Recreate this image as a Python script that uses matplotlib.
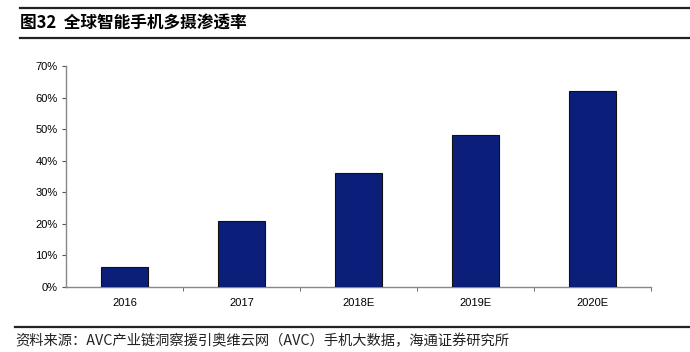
import matplotlib.pyplot as plt
import numpy as np

plt.rcParams['font.family'] = ['Noto Sans CJK SC', 'DejaVu Sans']

years = ['2016', '2017', '2018E', '2019E', '2020E']
rate = [6.2, 21, 36, 48, 62]   # %
yticks = [0, 10, 20, 30, 40, 50, 60, 70]

fig = plt.figure(figsize=(6.9, 3.52), dpi=100)
W, H = 690, 352

# header / footer rules
fig.add_artist(plt.Line2D([20/W, 1], [1-8/H, 1-8/H], color='#222222', lw=1.6))
fig.add_artist(plt.Line2D([20/W, 1], [1-38/H, 1-38/H], color='#222222', lw=1.6))
fig.add_artist(plt.Line2D([15/W, 1], [1-327/H, 1-327/H], color='#222222', lw=1.6))
fig.text(20/W, 1-24/H, '图32  全球智能手机多摄渗透率', fontsize=12, fontweight='bold',
         va='center', ha='left')
fig.text(15/W, 1-341/H, '资料来源：AVC产业链洞察援引奥维云网（AVC）手机大数据，海通证券研究所',
         fontsize=10.3, va='center', ha='left', color='#222222')

ax = fig.add_axes([66/W, 1-287/H, (651-66)/W, (287-66)/H])
x = np.arange(len(years))
ax.bar(x, rate, width=0.4, color='#0B1F7A', edgecolor='#111111', linewidth=0.8, zorder=3)
ax.set_xlim(-0.5, len(years)-0.5)
ax.set_ylim(0, 70)
ax.set_yticks(yticks)
ax.set_yticklabels([f'{v}%' for v in yticks], fontsize=8, family=['Liberation Sans', 'DejaVu Sans'])
ax.set_xticks(x)
ax.set_xticklabels(years, fontsize=8, family=['Liberation Sans', 'DejaVu Sans'])
ax.set_xticks(np.arange(0.5, len(years), 1.0), minor=True)
ax.tick_params(axis='x', which='major', length=0, pad=8)
ax.tick_params(axis='x', which='minor', length=3, direction='out', color='#555555')
ax.tick_params(axis='y', length=3, direction='out', color='#555555', pad=3)
for s in ['top', 'right']:
    ax.spines[s].set_visible(False)
for s in ['left', 'bottom']:
    ax.spines[s].set_color('#888888')
    ax.spines[s].set_linewidth(1.0)

fig.savefig('out.png', dpi=100)
